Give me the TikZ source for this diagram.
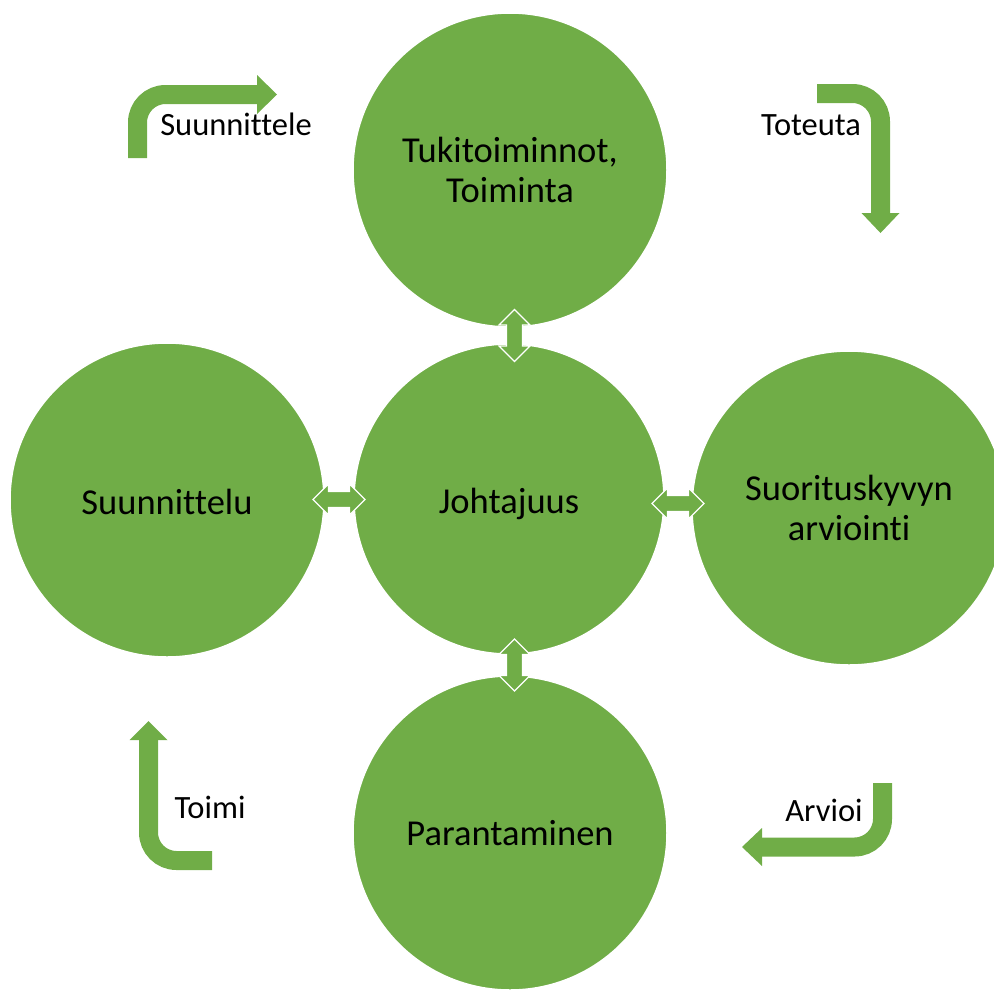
\documentclass[tikz,border=0pt]{standalone}
\usepackage{fontspec}
\setmainfont{Carlito}[Ligatures=NoCommon]
\usetikzlibrary{calc}
\definecolor{pgreen}{HTML}{70AD47}
\begin{document}
\begin{tikzpicture}[x=1pt,y=-1pt,
  circ/.style={circle, fill=pgreen, draw=white, line width=1.5pt, minimum size=314pt, inner sep=0pt, align=center, font=\fontsize{36.5}{40}\selectfont},
  lbl/.style={anchor=base, font=\fontsize{32.5}{36}\selectfont},
  bentshaft/.style={draw=pgreen, line width=19pt, rounded corners=28pt},
  dbl/.pic={\draw[fill=pgreen, draw=white, line width=1.2pt] (-26,0) -- (-10.5,-15.5) -- (-10.5,-8) -- (10.5,-8) -- (10.5,-15.5) -- (26,0) -- (10.5,15.5) -- (10.5,8) -- (-10.5,8) -- (-10.5,15.5) -- cycle;}
]
\clip (0,0) rectangle (994,989);
\useasboundingbox (0,0) rectangle (994,989);

% circles
\node[circ] (top) at (510,170) {Tukitoiminnot,\\Toiminta};
\node[circ, minimum size=310pt] (ctr) at (509,499) {\raisebox{-5pt}[\height][\depth]{Johtajuus}};
\node[circ] (left) at (167,500) {\raisebox{-2pt}[\height][\depth]{Suunnittelu}};
\node[circ] (right) at (849,508) {Suorituskyvyn\\arviointi};
\node[circ] (bot) at (510,833) {Parantaminen};

% double arrows between circles
\pic[rotate=90] (a1) at ($(top.south)!.5!(ctr.north)+(5,0)$) {dbl};
\pic[rotate=90] (a2) at ($(ctr.south)!.5!(bot.north)+(5,0)$) {dbl};
\pic (a3) at ($(left.east)!.5!(ctr.west)$) {dbl};
\pic (a4) at ($(ctr.east)!.5!(right.west)$) {dbl};

% bent arrows
\coordinate (s1a) at (137.5,158);
\coordinate (s1b) at (258,94.5);
\draw[bentshaft] (s1a) |- (s1b);
\fill[pgreen] ($(s1b)+(-1,-19.5)$) -- ($(s1b)+(19,0)$) -- ($(s1b)+(-1,19.5)$) -- cycle;

\coordinate (s2a) at (817,93.5);
\coordinate (s2b) at (880.5,214);
\draw[bentshaft] (s2a) -| (s2b);
\fill[pgreen] ($(s2b)+(-19,-1)$) -- ($(s2b)+(0,19)$) -- ($(s2b)+(19,-1)$) -- cycle;

\coordinate (s3a) at (212,860.5);
\coordinate (s3b) at (148.5,739);
\draw[bentshaft] (s3a) -| (s3b);
\fill[pgreen] ($(s3b)+(-19,1)$) -- ($(s3b)+(0,-18)$) -- ($(s3b)+(19,1)$) -- cycle;

\coordinate (s4a) at (882.5,783);
\coordinate (s4b) at (761,847);
\draw[bentshaft] (s4a) |- (s4b);
\fill[pgreen] ($(s4b)+(1,-19)$) -- ($(s4b)+(-19,0)$) -- ($(s4b)+(1,19)$) -- cycle;

% labels
\node[lbl] (l1) at (236,135) {Suunnittele};
\node[lbl] (l2) at (811,135) {Toteuta};
\node[lbl] (l3) at (210,818) {Toimi};
\node[lbl] (l4) at (824,821) {Arvioi};
\end{tikzpicture}
\end{document}
